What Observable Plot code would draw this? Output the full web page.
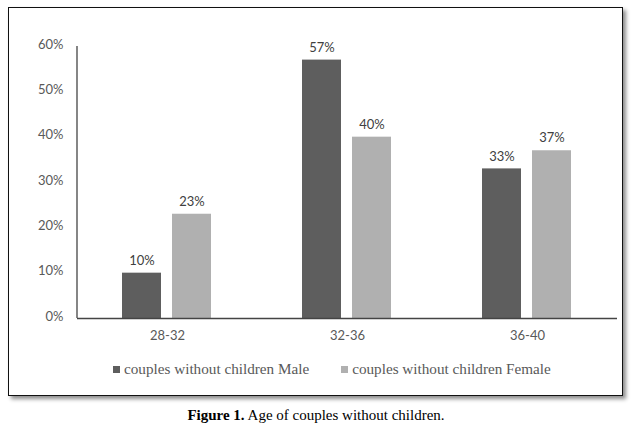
<!DOCTYPE html>
<html>
<head>
<meta charset="utf-8">
<script src="https://cdn.jsdelivr.net/npm/d3@7"></script>
<script src="https://cdn.jsdelivr.net/npm/@observablehq/plot@0.6"></script>
<style>
  html, body { margin: 0; padding: 0; background: #fff; }
  body { position: relative; width: 632px; height: 430px; overflow: hidden; }
  #box {
    position: absolute; left: 8px; top: 7px; width: 615px; height: 389px;
    box-sizing: border-box; border: 1.5px solid #111; background: #fff;
    box-shadow: 3px 3px 4px rgba(0,0,0,0.45);
  }
  #chart { position: absolute; left: 0; top: 0; }
  #legend {
    position: absolute; left: 113px; top: 360px; height: 18px;
    display: flex; align-items: center;
    font-family: "Times New Roman", "Liberation Serif", serif; font-size: 15.2px; color: #595959;
  }
  #legend .item { display: flex; align-items: center; margin-right: 32px; white-space: nowrap; }
  #legend .sw { width: 7px; height: 7px; margin-right: 4px; }
  #caption {
    position: absolute; left: 0; width: 632px; top: 407px; text-align: center;
    font-family: "Times New Roman", "Liberation Serif", serif; font-size: 15px; color: #000;
  }
</style>
</head>
<body>
<div id="box"></div>
<div id="chart"></div>
<div id="legend"></div>
<div id="caption"><b>Figure 1.</b> Age of couples without children.</div>
<script>
const ages = ["28-32", "32-36", "36-40"];
const series = ["Male", "Female"];
const seriesLabels = ["couples without children Male", "couples without children Female"];
const maleValues = [0.10, 0.57, 0.33];
const femaleValues = [0.23, 0.40, 0.37];
const colors = ["#5e5e5e", "#b0b0b0"];
const yTicks = [0, 0.1, 0.2, 0.3, 0.4, 0.5, 0.6];

const data = [];
ages.forEach((a, i) => {
  data.push({age: a, sex: series[0], value: maleValues[i]});
  data.push({age: a, sex: series[1], value: femaleValues[i]});
});

const fmt = d3.format(".0%");

const chart = Plot.plot({
  width: 632,
  height: 350,
  marginLeft: 76,
  marginRight: 15,
  marginTop: 46,
  marginBottom: 32,
  style: {fontFamily: "Lato, 'Open Sans', sans-serif", fontSize: "13px", color: "#595959", background: "transparent"},
  fx: {domain: ages, padding: 0, label: null, tickSize: 0, tickPadding: 12, axis: "bottom"},
  x: {domain: series, paddingInner: 0.2157, paddingOuter: 0.8755, axis: null},
  y: {domain: [0, 0.6], axis: null},
  color: {domain: series, range: colors},
  marks: [
    Plot.axisY(yTicks, {tickSize: 0, tickPadding: 14, tickFormat: fmt, dy: -2, fill: "#595959", label: null}),
    Plot.barY(data, {fx: "age", x: "sex", y: "value", fill: "sex"}),
    Plot.ruleY([0], {stroke: "#444", strokeWidth: 1.3}),
    Plot.text(data, {fx: "age", x: "sex", y: "value", text: d => fmt(d.value), dy: -12.5, fill: "#404040", fontSize: 13})
  ]
});

// vertical axis line at the left edge of the first facet, from the library's scales
const fxs = chart.scale("fx");
const ys = chart.scale("y");
const x0 = fxs.apply(ages[0]);
d3.select(chart).append("line")
  .attr("x1", x0).attr("x2", x0)
  .attr("y1", ys.apply(0)).attr("y2", ys.apply(0.6))
  .attr("stroke", "#444").attr("stroke-width", 1.3);

document.getElementById("chart").appendChild(chart);

const legend = d3.select("#legend");
series.forEach((s, i) => {
  const item = legend.append("div").attr("class", "item");
  item.append("div").attr("class", "sw").style("background", colors[i]);
  item.append("span").text(seriesLabels[i]);
});
</script>
</body>
</html>
